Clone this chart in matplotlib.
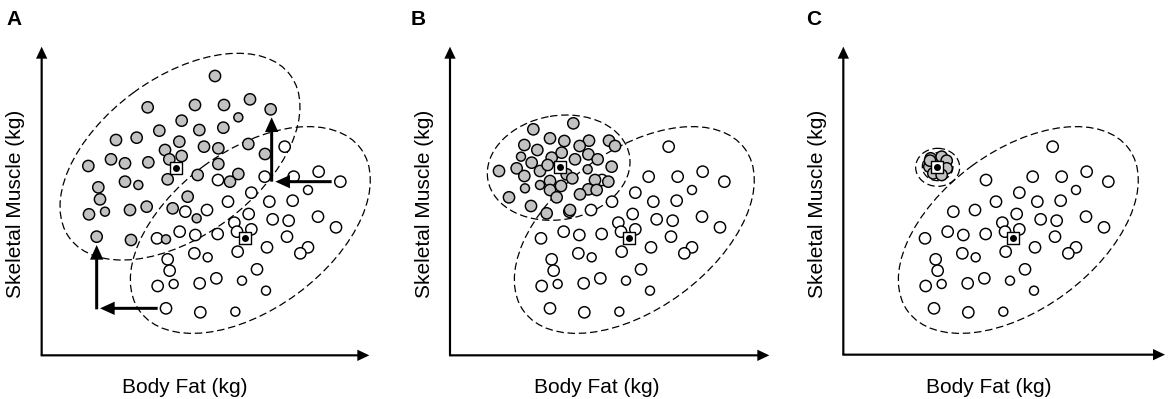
import numpy as np
import matplotlib
matplotlib.use("Agg")
import matplotlib.pyplot as plt
from matplotlib.patches import Ellipse

plt.rcParams['font.family'] = ['Liberation Sans', 'DejaVu Sans']

panel_letters = ["A", "B", "C"]
x_label = "Body Fat (kg)"
y_label = "Skeletal Muscle (kg)"

# White (reference) group, schematic units (shared layout in all panels)
white_x = [788, 588, 728, 815, 890, 955, 858, 688, 618, 742, 812, 490, 555, 680, 752,
           800, 888, 942, 637, 645, 688, 473, 520, 587, 405, 795, 735, 858, 835, 647,
           517, 557, 437, 443, 705, 407, 455, 533, 583, 660, 732, 432, 535, 640]
white_y = [440, 540, 530, 530, 515, 545, 570, 578, 605, 605, 602, 635, 630, 642, 658,
           662, 650, 682, 668, 695, 688, 695, 705, 702, 715, 710, 742, 742, 760, 755,
           760, 772, 778, 812, 808, 858, 852, 850, 835, 842, 872, 925, 937, 935]
white_small = [0, 0, 0, 0, 0, 0, 1, 0, 0, 0, 0, 0, 0, 0, 0,
               0, 0, 0, 0, 0, 0, 0, 0, 0, 0, 0, 0, 0, 0, 0,
               0, 1, 0, 0, 0, 0, 1, 0, 0, 1, 1, 0, 0, 1]
white_shift = [66, 18, 0]

# Gray group, panel A
gray_a_x = [645, 443, 585, 672, 750, 812, 715, 545, 478, 598, 670, 348, 410, 538, 612,
            655, 745, 495, 508, 545, 265, 333, 375, 445, 655, 593, 503, 375, 415, 715,
            690, 795, 295, 300, 563, 440, 267, 315, 390, 518, 590, 290, 393, 498]
gray_a_y = [228, 322, 315, 315, 298, 328, 352, 362, 392, 390, 383, 420, 413, 425, 440,
            445, 432, 450, 478, 468, 498, 478, 490, 487, 492, 525, 538, 545, 555, 522,
            545, 462, 562, 598, 590, 620, 643, 635, 630, 625, 655, 710, 720, 718]
gray_a_small = [0, 0, 0, 0, 0, 0, 1, 0, 0, 0, 0, 0, 0, 0, 0,
                0, 0, 0, 0, 0, 0, 0, 0, 0, 0, 0, 0, 0, 1, 0,
                0, 0, 0, 0, 0, 0, 0, 1, 0, 0, 1, 0, 0, 1]

# Gray group, panel B
gray_b_x = [520, 400, 450, 493, 567, 627, 373, 412, 539, 645, 363, 395, 455, 485, 525,
            565, 593, 350, 297, 420, 443, 563, 635, 373, 500, 517, 585, 625, 450, 483,
            375, 420, 450, 565, 590, 540, 470, 327, 393, 440, 510]
gray_b_y = [370, 388, 415, 423, 422, 422, 435, 450, 438, 438, 470, 488, 473, 458, 478,
            463, 478, 505, 513, 513, 495, 508, 500, 528, 523, 535, 540, 545, 543, 558,
            565, 555, 570, 568, 570, 583, 592, 592, 618, 640, 630]
gray_b_small = [0, 0, 0, 0, 0, 0, 0, 0, 0, 0, 1, 0, 0, 0, 0,
                0, 0, 0, 0, 0, 0, 1, 0, 0, 0, 0, 0, 0, 0, 0,
                1, 1, 0, 0, 0, 0, 0, 0, 0, 0, 0]

# Gray group, panel C
gray_c_x = [422, 455, 470, 418, 470, 430, 455, 420]
gray_c_y = [475, 470, 482, 500, 505, 520, 525, 482]

gray_sets = [(gray_a_x, gray_a_y, gray_a_small),
             (gray_b_x, gray_b_y, gray_b_small),
             (gray_c_x, gray_c_y, [0] * len(gray_c_x))]

gray_means = [(527, 503), (480, 502), (442, 500)]
white_means = [(735, 715), (686, 715), (668, 715)]

# confidence ellipses: (cx, cy, width, height, angle)
gray_ellipses = [[(540, 470, 823, 475, -36.4)],
                 [(476, 503, 431, 312, -9.6)],
                 [(443, 502, 132, 114, 0), (443, 500, 92, 84, 0)]]
white_ellipses = [(751, 690, 823, 475, -36.4),
                  (703, 690, 823, 475, -36.4),
                  (685, 690, 823, 475, -36.4)]

# panel frames (figure pixels) and axis geometry (schematic units)
panel_px = [(0, 390), (400, 390), (790, 380)]
axis_origin = [(125, 1066), (150, 1066), (160, 1064)]
axis_tips = [(1108, 140), (1108, 140), (1125, 140)]
xlabel_pos = [(553, 1180), (590, 1180), (597, 1180)]
ylabel_pos = [(48, 612), (75, 612), (82, 612)]
letter_pos = [(42, 75), (55, 75), (72, 75)]

W, H = 1170, 399
fig = plt.figure(figsize=(W / 100, H / 100), dpi=100)

S_BIG, S_SMALL = 66, 42
EDGE = 1.05
dash = (0, (6, 3))

for i in range(3):
    x0, w = panel_px[i]
    ax = fig.add_axes([x0 / W, 0, w / W, 1])
    ax.set_xlim(0, w * 3)
    ax.set_ylim(H * 3, 0)
    ax.axis('off')

    # ellipses
    for (cx, cy, ew, eh, ang) in white_ellipses[i:i + 1] + gray_ellipses[i]:
        ax.add_patch(Ellipse((cx, cy), ew, eh, angle=ang, fill=False,
                             ec='black', lw=0.9, ls=dash, zorder=1))

    # white points
    wx = np.array(white_x) + white_shift[i]
    wy = np.array(white_y)
    ws = np.where(np.array(white_small) == 1, S_SMALL, S_BIG)
    ax.scatter(wx, wy, s=ws, facecolor='white', edgecolor='black', lw=EDGE, zorder=2)

    # gray points
    gx, gy, gsm = gray_sets[i]
    gs = np.where(np.array(gsm) == 1, S_SMALL, S_BIG)
    ax.scatter(gx, gy, s=gs, facecolor='#c2c2c2', edgecolor='black', lw=EDGE, zorder=3)

    # group means
    for (mx, my) in (gray_means[i], white_means[i]):
        ax.scatter([mx], [my], s=80, marker='s', facecolor='white',
                   edgecolor='black', lw=1.0, zorder=4)
        ax.scatter([mx], [my], s=16, marker='o', color='black', zorder=5)

    # axes arrows
    ox, oy = axis_origin[i]
    tx, ty = axis_tips[i]
    ax.arrow(ox, oy, 0, ty - oy, width=6.5, head_width=34, head_length=36,
             length_includes_head=True, fc='black', ec='none', zorder=6)
    ax.arrow(ox - 3, oy, tx - ox + 3, 0, width=6.5, head_width=34, head_length=36,
             length_includes_head=True, fc='black', ec='none', zorder=6)

    ax.text(*xlabel_pos[i], x_label, ha='center', va='baseline', fontsize=15)
    ax.text(*ylabel_pos[i], y_label, ha='center', va='center', rotation=90, fontsize=15)
    ax.text(*letter_pos[i], panel_letters[i], ha='center', va='baseline',
            fontsize=15, fontweight='bold')

# shift arrows in panel A
axA = fig.axes[0]
shift_arrows = [((815, 545), (815, 352)), ((995, 545), (826, 545)),
                ((290, 928), (290, 735)), ((473, 925), (300, 925))]
for (sx, sy), (ex, ey) in shift_arrows:
    axA.arrow(sx, sy, ex - sx, ey - sy, width=9, head_width=40, head_length=44,
              length_includes_head=True, fc='black', ec='none', zorder=7)

fig.savefig("out.png", dpi=100)
